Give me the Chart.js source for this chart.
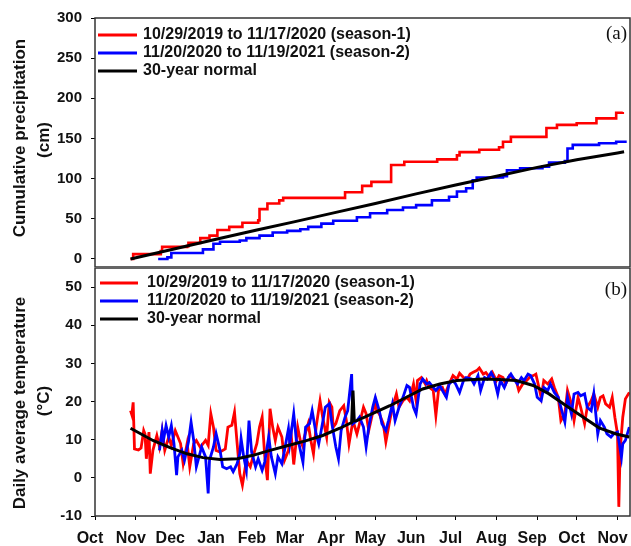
<!DOCTYPE html>
<html>
<head>
<meta charset="utf-8">
<script src="https://cdn.jsdelivr.net/npm/chart.js@4.4.0/dist/chart.umd.min.js"></script>
<style>
  html, body { margin: 0; padding: 0; background: #fff; }
  #wrap { position: relative; width: 631px; height: 546px; }
  #wrap canvas { position: absolute; left: 0; }
</style>
</head>
<body>
<div id="wrap">
  <canvas id="precipChart" width="631" height="268" style="top:0"></canvas>
  <canvas id="tempChart" width="631" height="278" style="top:268px"></canvas>
</div>
<script>
// x values are days counted from Oct 1
const monthStarts = [0, 31, 61, 92, 123, 152, 183, 213, 244, 274, 305, 336, 366, 397];
const monthLabels = ["Oct", "Nov", "Dec", "Jan", "Feb", "Mar", "Apr", "May", "Jun", "Jul", "Aug", "Sep", "Oct", "Nov"];
const precipTicks = [0, 50, 100, 150, 200, 250, 300];
const tempTicks = [-10, 0, 10, 20, 30, 40, 50];

const seriesLabels = [
    "10/29/2019 to 11/17/2020 (season-1)",
    "11/20/2020 to 11/19/2021 (season-2)",
    "30-year normal"
];

/* ---- cumulative precipitation (cm) ---- */
const precipDays1 = [27, 29, 50, 51, 70, 71, 80, 87, 93, 102, 112, 124, 125, 131, 140, 143, 188, 190, 203, 210, 222, 225, 235, 260, 275, 277, 292, 307, 310, 316, 338, 343, 351, 366, 381, 396, 401];
const precipVals1 = [0, 6, 10, 15, 16, 20, 26, 29, 36, 40, 45, 48, 62, 69, 73, 76, 76, 83, 91, 96, 96, 117, 121, 124, 129, 133, 136, 139, 146, 152, 152, 163, 167, 169, 175, 182, 183];

const precipDays2 = [48, 55, 58, 82, 90, 95, 110, 115, 125, 135, 146, 156, 162, 172, 181, 199, 209, 222, 234, 244, 256, 269, 275, 282, 287, 290, 310, 313, 323, 340, 345, 357, 359, 363, 383, 396, 404];
const precipVals2 = [0, 2, 7.5, 12, 19, 21.5, 23, 26, 29, 33, 35, 37, 40, 44, 47.5, 52, 57, 61, 64, 67, 73, 77.5, 84, 88, 98, 101.5, 103, 110.5, 113, 115, 120, 122, 137.5, 142, 144, 146, 146];

const precipNormDays = [27, 60, 92, 123, 152, 183, 213, 244, 274, 305, 336, 366, 397, 402];
const precipNormVals = [0, 12.5, 24.5, 36, 46.5, 58, 69, 81, 92, 103, 114, 123.5, 132, 133.5];

/* ---- daily average temperature (°C) ---- */
const tempDays1 = [27, 28, 29, 30, 33, 35, 37, 38, 39, 41, 42, 44, 47, 49, 51, 53, 56, 58, 61, 65, 67, 70, 72, 75, 77, 80, 84, 86, 88, 90,
    92, 95, 99, 101, 104, 106, 108, 110, 112, 115, 118, 120, 123, 125, 127, 129, 131, 133, 135, 137, 139, 142, 144, 147, 149, 151, 154, 156, 158, 159,
    162, 164, 166, 168, 171, 173, 176, 178, 180, 181, 183, 186, 189, 191, 193, 196, 199, 201, 204, 206, 208, 210, 213, 214, 216, 219, 221, 224, 226, 229,
    231, 234, 237, 239, 242, 244, 245, 248, 251, 252, 254, 257, 259, 261, 264, 266, 269, 272, 275, 277, 280, 283, 285, 287, 290, 292, 295, 297, 300, 302,
    305, 307, 310, 312, 315, 317, 320, 322, 325, 328, 330, 333, 335, 339, 341, 344, 347, 349, 352, 354, 357, 359, 362, 364, 367, 369, 372, 374, 377, 379,
    382, 384, 386, 388, 391, 393, 395, 397, 398, 399, 401, 403, 406];
const tempVals1 = [17.6, 16.5, 19.8, 7.6, 7.3, 7.8, 12.4, 11.5, 5.0, 12.0, 1.1, 7.2, 11.1, 8.1, 12.4, 7.2, 10.7, 8.5, 12.4, 9.0, 3.7, 9.0, 2.9, 9.0, 9.8, 8.0, 9.8, 8.5, 16.8, 13.3,
    7.2, 6.8, 7.6, 13.3, 13.8, 17.2, 9.0, 1.1, -1.9, 4.6, 2.9, 5.5, 9.0, 13.3, 15.9, 5.5, -0.6, 18.1, 13.3, 9.8, 13.3, 10.7, 4.6, 7.2, 11.6, 3.5, 13.3, 9.8, 8.1, 10.7,
    14.2, 9.8, 6.3, 13.3, 20.2, 15.9, 10.7, 19.8, 18.5, 13.3, 14.2, 17.6, 18.9, 15.0, 8.9, 15.0, 11.5, 14.2, 18.5, 16.8, 12.4, 15.5, 20.2, 17.6, 16.8, 14.2, 9.4, 15.0, 18.5, 22.0,
    18.5, 20.2, 21.1, 20.2, 24.6, 20.2, 25.5, 26.3, 24.6, 25.5, 23.7, 22.9, 16.3, 22.9, 23.7, 22.0, 24.6, 26.8, 25.9, 27.4, 26.3, 25.9, 27.2, 27.6, 28.1, 28.8, 27.2, 27.6, 26.3, 27.6,
    25.5, 26.8, 26.3, 24.6, 26.8, 26.3, 25.5, 22.9, 24.6, 25.5, 26.3, 26.8, 27.2, 21.1, 25.5, 24.6, 25.9, 23.7, 21.1, 15.0, 16.8, 22.9, 19.4, 15.0, 21.1, 18.5, 14.2, 18.5, 20.2, 22.0,
    18.5, 21.1, 21.5, 19.4, 18.5, 21.1, 15.9, 11.5, -7.6, 7.2, 15.9, 20.7, 22.4];

const tempDays2 = [49, 51, 52, 54, 56, 58, 60, 62, 63, 66, 68, 71, 73, 75, 77, 79, 81, 84, 86, 87, 90, 92, 95, 97, 100, 103, 105, 108, 110, 111,
    113, 115, 117, 119, 122, 124, 127, 129, 132, 134, 137, 139, 142, 144, 147, 148, 151, 153, 155, 158, 160, 163, 165, 168, 170, 173, 175, 178, 180, 183,
    185, 187, 190, 192, 195, 196, 199, 201, 204, 206, 208, 211, 213, 216, 218, 221, 223, 226, 228, 231, 234, 237, 239, 242, 244, 247, 249, 252, 254, 257,
    259, 262, 264, 267, 269, 272, 274, 277, 280, 282, 286, 288, 291, 293, 296, 298, 301, 303, 306, 308, 311, 314, 316, 319, 321, 324, 326, 329, 331, 334,
    336, 339, 341, 344, 346, 349, 352, 354, 357, 359, 362, 364, 367, 369, 372, 374, 377, 379, 382, 384, 387, 389, 392, 394, 397, 400, 401, 403, 406];
const tempVals2 = [7.2, 12.4, 9.8, 13.7, 10.7, 13.7, 9.0, 0.7, 5.5, 7.2, 4.6, 9.4, 14.6, 9.8, 2.9, 5.5, 8.1, 5.5, -4.1, 4.6, 8.1, 11.6, 7.2, 2.9, 2.4, 2.9, 1.6, 3.7, 6.3, 10.3,
    5.5, 2.0, 15.0, 6.8, 2.9, 5.0, 2.0, 4.2, 10.7, 5.5, 1.1, 5.5, 3.7, 7.2, 12.9, 9.0, 16.8, 9.8, 8.9, 4.1, 13.3, 14.2, 17.6, 11.5, 8.9, 14.6, 18.5, 19.4, 14.2, 8.1,
    5.0, 12.4, 15.9, 17.6, 27.2, 14.2, 15.0, 15.9, 13.3, 8.1, 13.3, 18.5, 21.1, 17.6, 14.2, 12.4, 15.0, 19.4, 15.0, 18.5, 21.1, 24.2, 23.7, 18.5, 16.8, 24.6, 25.9, 24.6, 25.0, 23.7,
    22.9, 24.2, 22.9, 21.1, 24.6, 25.5, 24.6, 22.4, 25.5, 26.3, 25.9, 24.6, 26.8, 22.9, 26.3, 25.9, 27.6, 26.3, 22.0, 25.5, 23.7, 26.3, 27.2, 25.5, 24.6, 26.3, 25.5, 27.2, 26.8, 24.6,
    21.1, 20.2, 23.7, 22.9, 24.6, 22.4, 21.1, 18.5, 14.6, 21.1, 16.8, 22.0, 22.4, 21.5, 22.0, 18.5, 17.6, 22.0, 11.5, 15.0, 13.3, 11.5, 10.7, 11.5, 12.0, 5.4, 8.9, 9.8, 13.3];

const tempNormDays = [27, 44, 57, 70, 82, 95, 108, 120, 133, 146, 160, 173, 186, 195, 196, 197, 199, 212, 224, 237, 249, 262, 275, 295, 307, 320, 333, 345, 358, 371, 383, 396, 406];
const tempNormVals = [13.0, 9.8, 7.9, 6.3, 5.3, 4.8, 5.0, 5.9, 7.2, 8.4, 9.7, 11.1, 13.0, 14.5, 22.9, 14.9, 15.0, 17.0, 18.9, 21.2, 23.3, 24.6, 25.5, 25.9, 25.8, 25.5, 24.2, 22.0, 18.9, 15.9, 13.1, 11.5, 10.7];

const xMax = 406.5;
const fontFamily = '"Liberation Sans", Arial, sans-serif';

function pts(days, vals) {
    return days.map((d, i) => ({ x: d, y: vals[i] }));
}

/* frame around the plot area, legend inside it, the (a)/(b) tag and the y title */
const panelDecor = {
    id: "panelDecor",
    afterDatasetsDraw(chart, args, opts) {
        const ctx = chart.ctx;
        const a = chart.chartArea;
        ctx.save();
        ctx.strokeStyle = "#333";
        ctx.lineWidth = 1.5;
        ctx.strokeRect(a.left, a.top, a.right - a.left, a.bottom - a.top);

        ctx.font = "bold 16px " + fontFamily;
        ctx.textBaseline = "middle";
        ctx.textAlign = "left";
        chart.data.datasets.forEach((ds, i) => {
            const y = a.top + opts.firstRow + i * opts.rowGap;
            ctx.strokeStyle = ds.borderColor;
            ctx.lineWidth = 3;
            ctx.beginPath();
            ctx.moveTo(opts.lineFrom, y);
            ctx.lineTo(opts.lineTo, y);
            ctx.stroke();
            ctx.fillStyle = "#111";
            ctx.fillText(ds.label, opts.textX, y);
        });

        ctx.font = '19px "Liberation Serif", "Times New Roman", serif';
        ctx.textAlign = "right";
        ctx.fillText(opts.tag, a.right - 3, a.top + opts.tagY);

        // rotated axis title, two lines
        ctx.font = "bold 17px " + fontFamily;
        ctx.textAlign = "center";
        opts.title.forEach((line, i) => {
            ctx.save();
            ctx.translate(opts.titleX[i], opts.titleY[i]);
            ctx.rotate(-Math.PI / 2);
            ctx.fillText(line, 0, 0);
            ctx.restore();
        });
        ctx.restore();
    }
};

function yAxis(min, max, tickList) {
    return {
        min: min,
        max: max,
        afterBuildTicks: s => { s.ticks = tickList.map(v => ({ value: v })); },
        // fixed width, and no extra room kept for the end labels
        afterFit: s => { s.width = 95; s.paddingTop = 0; s.paddingBottom = 0; },
        border: { display: false },
        grid: { drawOnChartArea: false, drawTicks: true, tickLength: 4, color: "#000" },
        ticks: { color: "#111", padding: 9, font: { family: fontFamily, size: 15, weight: "bold" } }
    };
}

/* ============================
      (a) PRECIPITATION
============================ */
new Chart(document.getElementById("precipChart"), {
    type: "line",
    data: {
        datasets: [
            { label: seriesLabels[0], data: pts(precipDays1, precipVals1), borderColor: "#ff0000", borderWidth: 2.6, stepped: "before", order: 2 },
            { label: seriesLabels[1], data: pts(precipDays2, precipVals2), borderColor: "#0000ff", borderWidth: 2.6, stepped: "before", order: 1 },
            { label: seriesLabels[2], data: pts(precipNormDays, precipNormVals), borderColor: "#000000", borderWidth: 3, order: 0 }
        ]
    },
    options: {
        responsive: false,
        animation: false,
        layout: { padding: { top: 18, right: 1, bottom: 1, left: 0 } },
        elements: { point: { radius: 0 } },
        plugins: {
            legend: { display: false },
            tooltip: { enabled: false },
            panelDecor: {
                firstRow: 17, rowGap: 18, lineFrom: 98, lineTo: 137, textX: 143, tag: "(a)", tagY: 16,
                title: ["Cumulative precipitation", "(cm)"], titleX: [20, 44], titleY: [138, 140]
            }
        },
        scales: {
            x: { type: "linear", min: 0, max: xMax, display: false },
            y: yAxis(-10, 300, precipTicks)
        }
    },
    plugins: [panelDecor]
});

/* ============================
      (b) TEMPERATURE
============================ */
new Chart(document.getElementById("tempChart"), {
    type: "line",
    data: {
        datasets: [
            { label: seriesLabels[0], data: pts(tempDays1, tempVals1), borderColor: "#ff0000", borderWidth: 2.8, order: 2 },
            { label: seriesLabels[1], data: pts(tempDays2, tempVals2), borderColor: "#0000ff", borderWidth: 2.8, order: 1 },
            { label: seriesLabels[2], data: pts(tempNormDays, tempNormVals), borderColor: "#000000", borderWidth: 3, order: 0 }
        ]
    },
    options: {
        responsive: false,
        animation: false,
        layout: { padding: { top: 0, right: 1, bottom: 0, left: 0 } },
        elements: { point: { radius: 0 } },
        plugins: {
            legend: { display: false },
            tooltip: { enabled: false },
            panelDecor: {
                firstRow: 15, rowGap: 18, lineFrom: 100, lineTo: 138, textX: 147, tag: "(b)", tagY: 22,
                title: ["Daily average temperature", "(°C)"], titleX: [20, 44], titleY: [135, 133]
            }
        },
        scales: {
            x: {
                type: "linear",
                min: 0,
                max: xMax,
                afterBuildTicks: s => { s.ticks = monthStarts.map(v => ({ value: v })); },
                afterFit: s => { s.height = 30; s.paddingLeft = 0; s.paddingRight = 0; },
                border: { display: false },
                grid: { drawOnChartArea: false, drawTicks: true, tickLength: 4, color: "#000" },
                ticks: {
                    color: "#111",
                    padding: 9,
                    labelOffset: -5,
                    maxRotation: 0,
                    autoSkip: false,
                    font: { family: fontFamily, size: 16, weight: "bold" },
                    callback: (v, i) => monthLabels[i]
                }
            },
            y: yAxis(-10, 55, tempTicks)
        }
    },
    plugins: [panelDecor]
});
</script>
</body>
</html>
